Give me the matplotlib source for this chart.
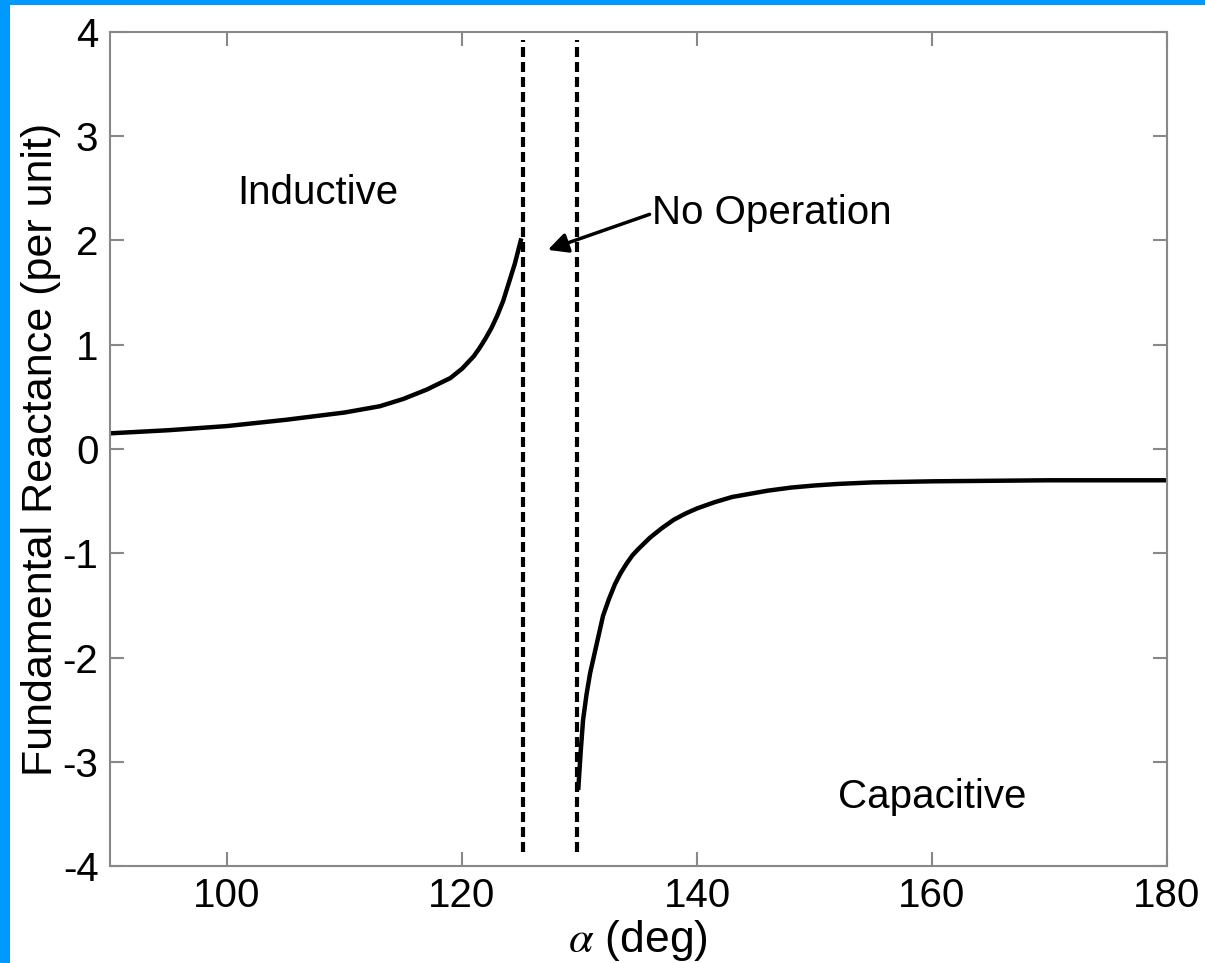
# Fundamental reactance of the compensator versus firing angle alpha
import matplotlib.pyplot as plt
from matplotlib.patches import Rectangle

# inductive branch (alpha below resonance)
alpha_ind = [90, 95, 100, 105, 110, 113, 115, 117, 119, 120, 121, 121.5, 122, 122.5,
             123, 123.5, 124, 124.5, 125]
x_ind = [0.15, 0.18, 0.22, 0.28, 0.35, 0.41, 0.48, 0.57, 0.68, 0.77, 0.89, 0.97, 1.06, 1.16,
         1.28, 1.42, 1.60, 1.78, 2.0]

# capacitive branch (alpha above resonance)
alpha_cap = [129.9, 130.1, 130.3, 130.6, 130.9, 131.2, 131.5, 132, 132.5, 133, 133.5, 134,
             134.5, 135, 136, 137, 138, 139, 140, 141.5, 143, 144.5, 146, 148, 150, 152,
             155, 160, 170, 180]
x_cap = [-3.25, -2.9, -2.6, -2.35, -2.15, -2.0, -1.85, -1.6, -1.44, -1.3, -1.19, -1.1,
         -1.02, -0.96, -0.85, -0.76, -0.68, -0.62, -0.57, -0.51, -0.46, -0.43, -0.40, -0.37,
         -0.35, -0.335, -0.32, -0.31, -0.30, -0.30]

# limits of the no-operation band
band_edges = [125.2, 129.8]

plt.rcParams['font.family'] = ['Liberation Sans', 'DejaVu Sans']
plt.rcParams['mathtext.fontset'] = 'stix'
plt.rcParams['axes.unicode_minus'] = False

fig = plt.figure(figsize=(12.05, 9.63), dpi=100)
fig.patch.set_facecolor('#0099ff')
fig.patches.append(Rectangle((10 / 1205, 0), 1, 1 - 5 / 963, transform=fig.transFigure,
                             facecolor='white', edgecolor='none', zorder=-10))

ax = fig.add_axes([0.0909, 0.1007, 0.8776, 0.8661])
ax.plot(alpha_ind, x_ind, color='black', lw=3.2)
ax.plot(alpha_cap, x_cap, color='black', lw=3.2)
ax.vlines(band_edges, -3.87, 3.92, colors='black', linestyles=(0, (2.4, 1.2)), lw=3)

ax.set_xlim(90, 180)
ax.set_ylim(-4, 4)
ax.set_xticks([100, 120, 140, 160, 180])
ax.set_yticks(range(-4, 5))

for s in ax.spines.values():
    s.set_color('#888888')
    s.set_linewidth(1.5)
ax.tick_params(direction='in', length=10, width=1.5, color='#888888', labelsize=29,
               top=True, right=True, pad=8)

ax.set_xlabel(r'$\alpha$ (deg)', fontsize=32, labelpad=2)
ax.set_ylabel('Fundamental Reactance (per unit)', fontsize=31, labelpad=1)

ax.text(100.9, 2.46, 'Inductive', fontsize=29, va='center')
ax.text(152.0, -3.34, 'Capacitive', fontsize=29, va='center')
ax.annotate('No Operation', xy=(127.3, 1.91), xytext=(136.2, 2.26), fontsize=29, va='center',
            arrowprops=dict(arrowstyle='-|>', color='black', lw=2.5, mutation_scale=30,
                            shrinkA=0, shrinkB=0, relpos=(0, 0.5)))

fig.savefig('out.png', dpi=100, facecolor=fig.get_facecolor())
